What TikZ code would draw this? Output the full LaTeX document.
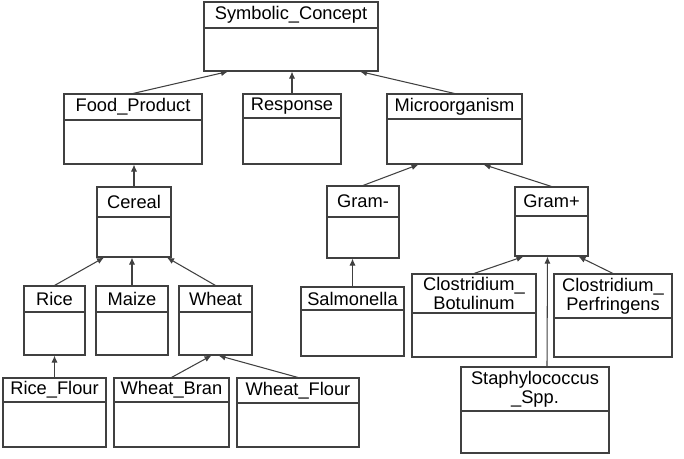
\documentclass[tikz,border=0pt]{standalone}
\usepackage{fontspec}
\setmainfont{Liberation Sans}
\usetikzlibrary{arrows.meta,calc}

\tikzset{
  cls/.style={draw=black!75,line width=0.6pt,inner sep=0pt},
  hdr/.style={align=center,inner sep=0pt,font=\fontsize{10.4}{11}\selectfont},
  isa/.style={draw=black!75,line width=0.6pt,-{Latex[length=4pt,width=3.5pt]}}
}
\newcommand\classbox[7]{%
  \node[cls,minimum width={(#4-#2)*0.02cm},minimum height={(#5-#3)*0.02cm}]
    (#1) at ({(#2+#4)/2},{(#3+#5)/2}) {};
  \node[hdr] (#1-t) at ({(#2+#4)/2},{(#3+#6)/2}) {#7};
  \draw[draw=black!75,line width=0.6pt] (#2,#6) -- (#4,#6);
}

\begin{document}
\begin{tikzpicture}[x=0.02cm,y=-0.02cm]
  \useasboundingbox (0,0) rectangle (684,458);
  \classbox{symb}{204}{2}{378}{71}{28}{Symbolic\_Concept}
  \classbox{food}{64}{94}{202}{164}{120}{Food\_Product}
  \classbox{resp}{243}{94}{341}{164}{118}{Response}
  \classbox{micro}{387}{94}{522}{164}{119}{Microorganism}
  \classbox{cereal}{97}{187}{171}{257}{217}{Cereal}
  \classbox{gramm}{327}{186}{399}{258}{217}{Gram-}
  \classbox{gramp}{515}{187}{588}{256}{216}{Gram+}
  \classbox{rice}{24}{286}{85}{355}{312}{Rice}
  \classbox{maize}{96}{286}{168}{355}{312}{Maize}
  \classbox{wheat}{179}{286}{252}{355}{312}{Wheat}
  \classbox{salm}{301}{287}{404}{356}{310}{Salmonella}
  \classbox{clostb}{412}{274}{536}{357}{313}{Clostridium\_\\Botulinum}
  \classbox{clostp}{554}{274}{672}{357}{318}{Clostridium\_\\Perfringens}
  \classbox{staph}{461}{367}{609}{453}{411}{Staphylococcus\\\_Spp.}
  \classbox{riceflour}{3}{378}{106}{447}{402}{Rice\_Flour}
  \classbox{wbran}{114}{378}{229}{447}{402}{Wheat\_Bran}
  \classbox{wflour}{237}{378}{359}{447}{403}{Wheat\_Flour}
  \draw[isa] (food.north) -- ($(symb.south)+(-63,0)$);
  \draw[isa] (resp.north) -- (resp.north |- symb.south);
  \draw[isa] (micro.north) -- ($(symb.south)+(69,0)$);
  \draw[isa] (cereal.north) -- (cereal.north |- food.south);
  \draw[isa] (gramm.north) -- ($(micro.south)+(-36,0)$);
  \draw[isa] (gramp.north) -- ($(micro.south)+(29,0)$);
  \draw[isa] (rice.north) -- ($(cereal.south)+(-30,0)$);
  \draw[isa] (maize.north) -- (maize.north |- cereal.south);
  \draw[isa] (wheat.north) -- ($(cereal.south)+(33,0)$);
  \draw[isa] (salm.north) -- (salm.north |- gramm.south);
  \draw[isa] (clostb.north) -- ($(gramp.south)+(-28,0)$);
  \draw[isa] (clostp.north) -- ($(gramp.south)+(27,0)$);
  \draw[isa] ($(staph.north)+(12,0)$) -- ($(gramp.south)+(-4,0)$);
  \draw[isa] (riceflour.north) -- (riceflour.north |- rice.south);
  \draw[isa] (wbran.north) -- ($(wheat.south)+(-4,0)$);
  \draw[isa] (wflour.north) -- ($(wheat.south)+(3,0)$);
\end{tikzpicture}
\end{document}
